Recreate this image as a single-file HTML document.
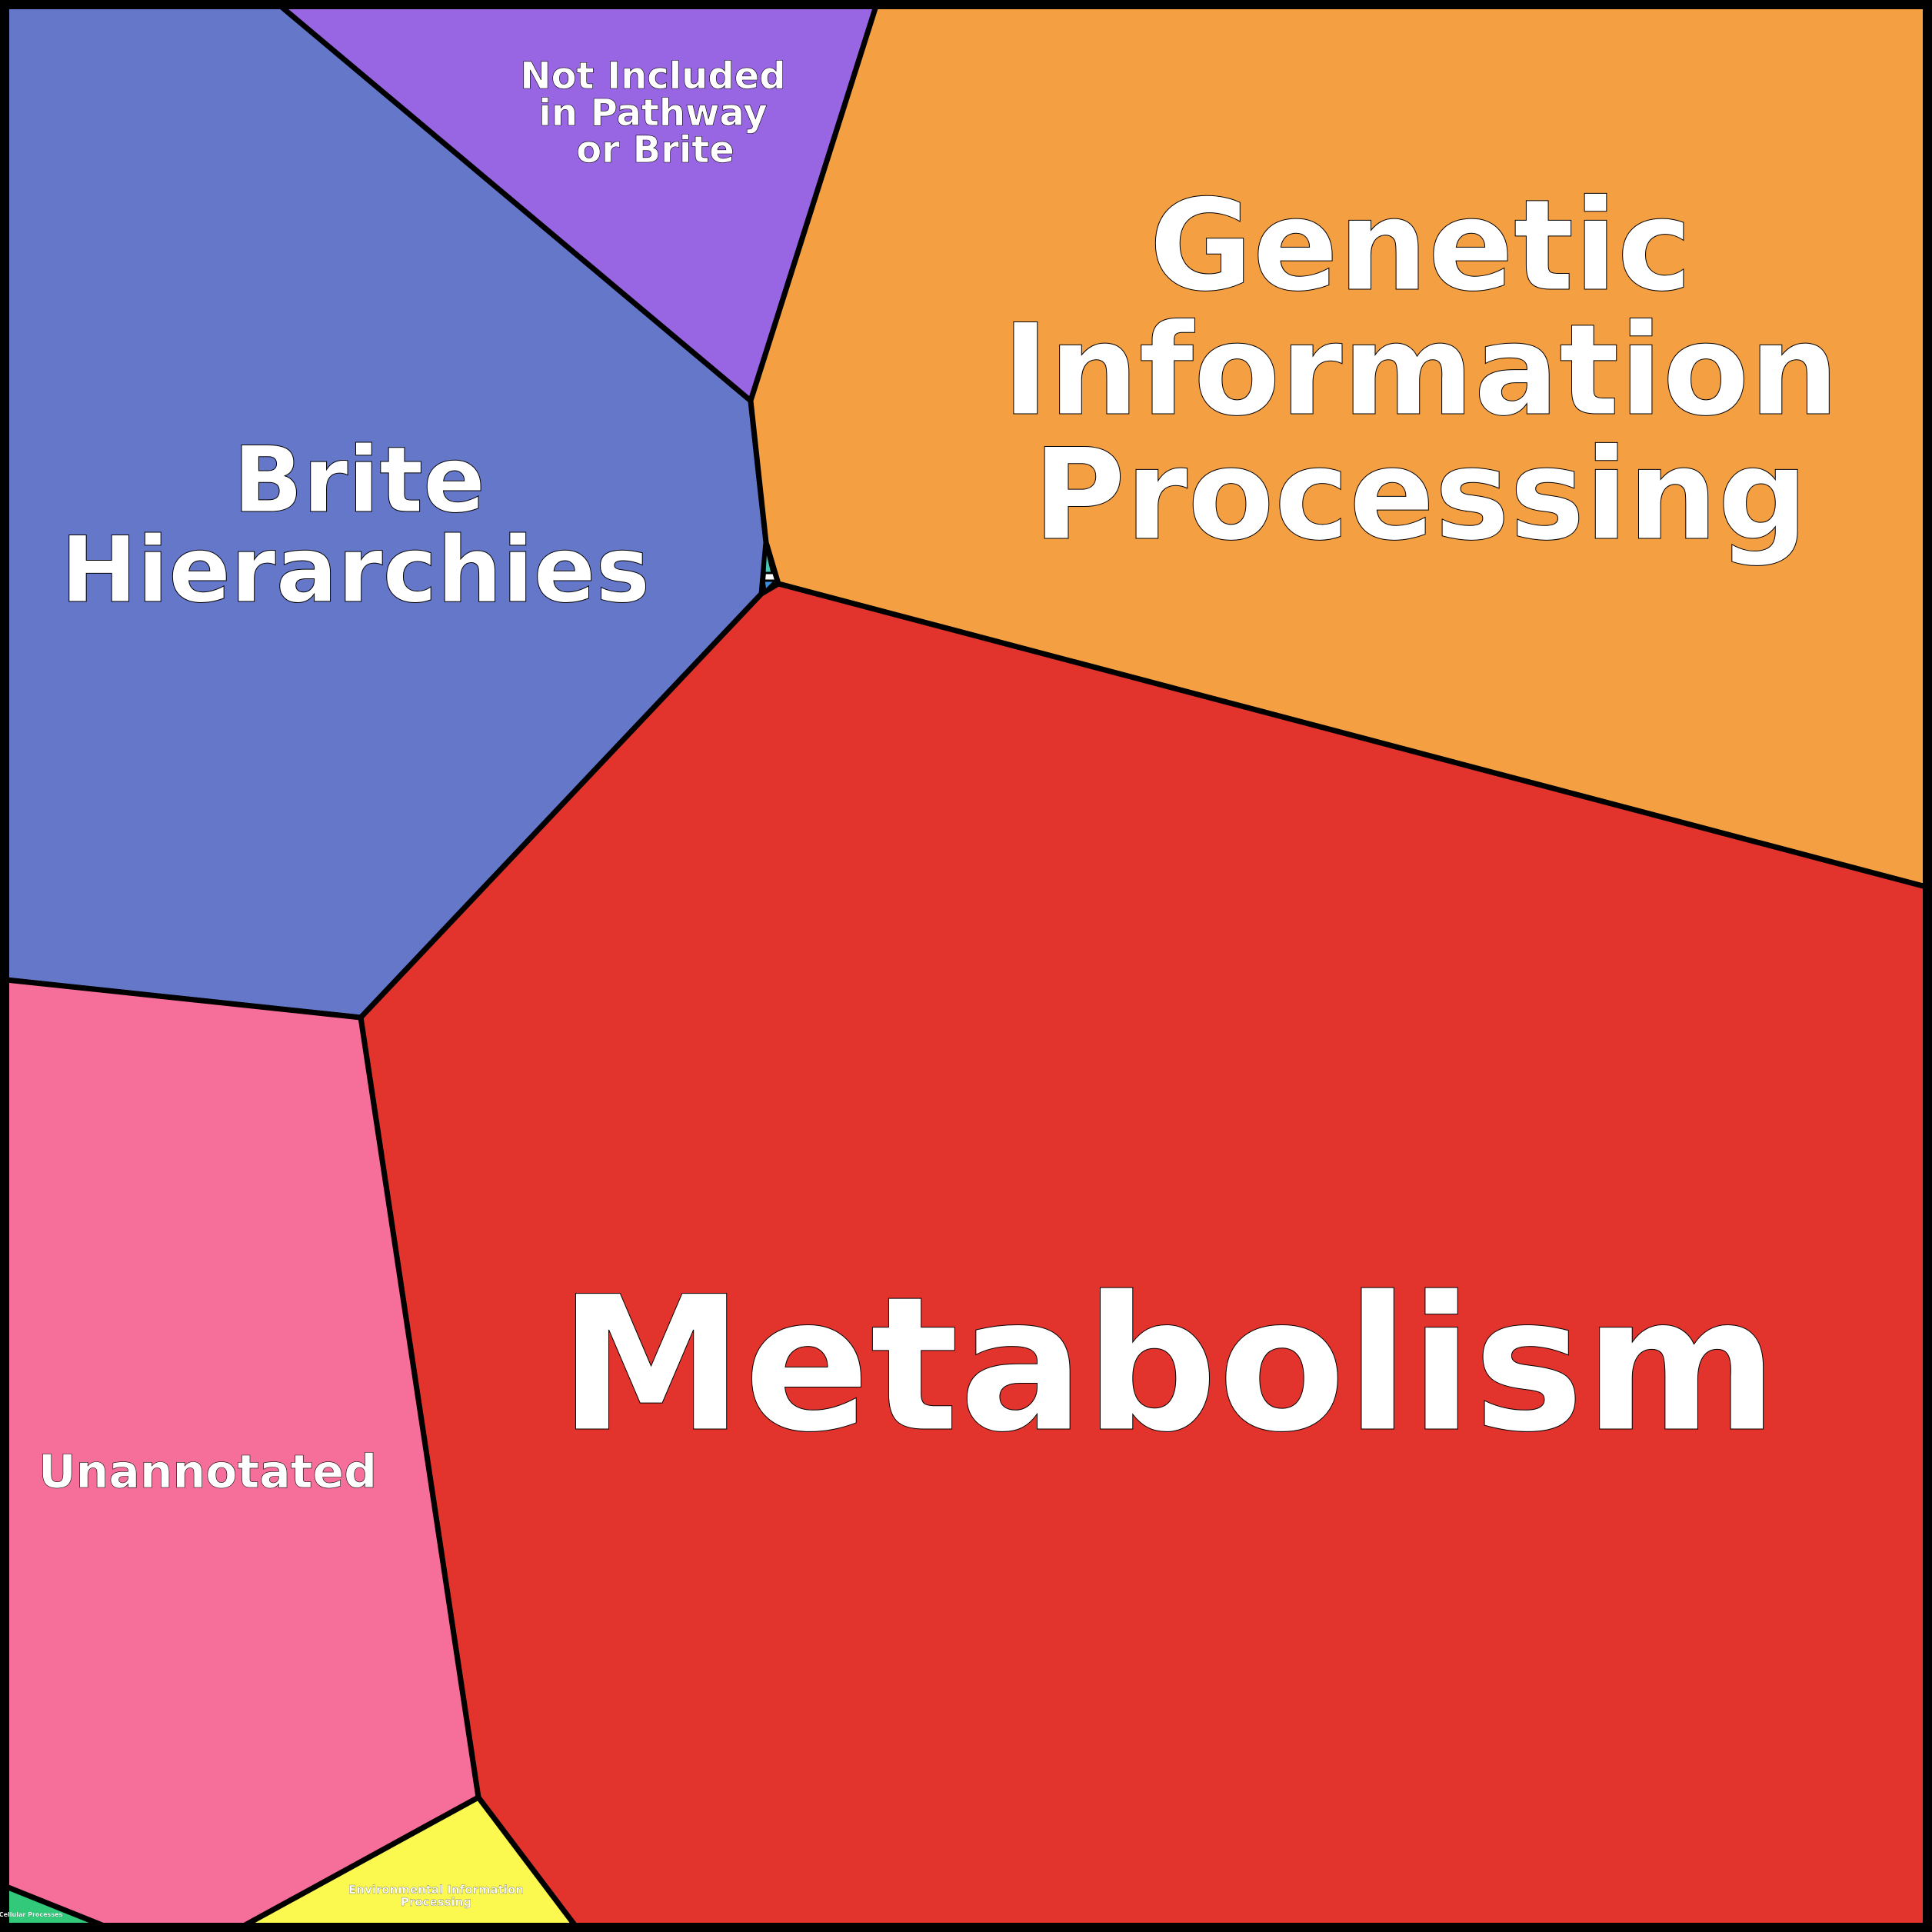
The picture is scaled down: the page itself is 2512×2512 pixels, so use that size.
<!DOCTYPE html>
<html><head><style>html,body{margin:0;padding:0;background:#fff}svg{display:block}</style></head><body>
<svg width="2512" height="2512" viewBox="0 0 2512 2512" xmlns="http://www.w3.org/2000/svg">
<g stroke="#000" stroke-width="7" stroke-linejoin="round">
<polygon fill="#6477c8" points="0,0 365,8 976,521 996,705 990,772 469,1323 8,1274"/>
<polygon fill="#9865e3" points="365,8 1139,8 976,521"/>
<polygon fill="#f49f42" points="1139,8 2512,0 2504,1153 1012,759 996,705 976,521"/>
<polygon fill="#e2342d" points="1012,759 2504,1153 2512,2512 748,2504 622,2337 469,1323 990,772"/>
<polygon fill="#f66f9b" points="8,1274 469,1323 622,2337 317,2504 135,2504 8,2453"/>
<polygon fill="#fbf84f" points="622,2337 748,2504 317,2504"/>
<polygon fill="#32c97a" points="8,2453 135,2504 8,2504"/>
<polygon fill="#4cc7b7" stroke-width="3" points="996,712 1004,745 994,745"/>
<polygon fill="#3a8fe0" stroke-width="3" points="993,755 1008,755 995,768"/>
</g>
<rect x="6" y="6" width="2500" height="2500" fill="none" stroke="#000" stroke-width="12"/>
<g font-family="'DejaVu Sans','Liberation Sans',sans-serif" font-weight="bold" fill="#fff" stroke="#000" text-anchor="middle">
<text x="1519" y="1858" font-size="242" stroke-width="1">Metabolism</text>
<text font-size="164" stroke-width="1"><tspan x="1847" y="376">Genetic</tspan><tspan x="1847" y="538">Information</tspan><tspan x="1847" y="700">Processing</tspan></text>
<text font-size="119" stroke-width="1"><tspan x="467" y="665">Brite</tspan><tspan x="462" y="782">Hierarchies</tspan></text>
<text font-size="48" stroke-width="0.6"><tspan x="849" y="115">Not Included</tspan><tspan x="849" y="163">in Pathway</tspan><tspan x="852" y="211">or Brite</tspan></text>
<text x="270" y="1934" font-size="60" stroke-width="0.6"><tspan>Unannotated</tspan></text>
<text font-size="15" stroke-width="0.2"><tspan x="567" y="2462">Environmental Information</tspan><tspan x="567" y="2478">Processing</tspan></text>
<text x="40" y="2492" font-size="8" stroke-width="0.1">Cellular Processes</text>
</g>
</svg>
</body></html>
